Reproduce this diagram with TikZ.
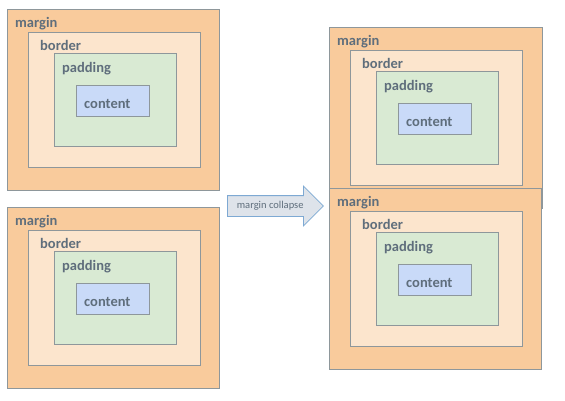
\documentclass[tikz,border=0pt]{standalone}
\usepackage{fontspec}
\setmainfont{Carlito}
\usetikzlibrary{positioning,shapes.arrows,calc}
\definecolor{marginfill}{HTML}{F9CB9C}
\definecolor{borderfill}{HTML}{FCE5CD}
\definecolor{paddingfill}{HTML}{D9EAD3}
\definecolor{contentfill}{HTML}{C9DAF8}
\definecolor{boxline}{HTML}{8E979B}
\definecolor{labeltext}{HTML}{5F6E7C}
\definecolor{arrowfill}{HTML}{DEE3EA}
\definecolor{arrowline}{HTML}{7EA9D3}

\begin{document}
\begin{tikzpicture}[x=1pt,y=-1pt,
    every node/.style={inner sep=0pt,anchor=north west},
    layer/.style={draw=boxline,line width=0.9pt,rectangle},
    marginbox/.style={layer,fill=marginfill,minimum width=212,minimum height=181},
    borderbox/.style={layer,fill=borderfill,minimum width=172,minimum height=135},
    paddingbox/.style={layer,fill=paddingfill,minimum width=122,minimum height=93},
    contentbox/.style={layer,fill=contentfill,minimum width=73,minimum height=31},
    boxlabel/.style={anchor=base west,text=labeltext,font=\fontsize{14.5}{16}\selectfont\bfseries}
  ]
  \useasboundingbox (0,0) rectangle (565,400);

  % the four box models
  \foreach \n/\x/\y/\w in {a/7/9/212,b/7/207/212,c/329/27/213,d/329/188/212}{
    \node[marginbox,minimum width=\w] (m\n) at (\x,\y) {};
    \node[borderbox] (b\n) at ([shift={(21,23)}]m\n.north west) {};
    \node[paddingbox] (p\n) at ([shift={(47,44)}]m\n.north west) {};
    \node[contentbox] (c\n) at ([shift={(69,76)}]m\n.north west) {};
    \node[boxlabel] (tm\n) at ([shift={(8,18)}]m\n.north west) {margin};
    \node[boxlabel] (tb\n) at ([shift={(12,18)}]b\n.north west) {border};
    \node[boxlabel] (tp\n) at ([shift={(8,19)}]p\n.north west) {padding};
    \node[boxlabel] (tc\n) at ([shift={(8,23)}]c\n.north west) {content};
  }

  % the arrow
  \node[single arrow,draw=arrowline,fill=arrowfill,line width=0.8pt,
    anchor=tail,minimum height=96,minimum width=39,
    single arrow head extend=9.5,text height=7,text depth=2,
    inner xsep=3,inner ysep=5.5,text=labeltext,
    font=\fontsize{10.5}{12}\selectfont] (collapse) at (227,206) {margin collapse\hspace{14pt}};
\end{tikzpicture}
\end{document}
